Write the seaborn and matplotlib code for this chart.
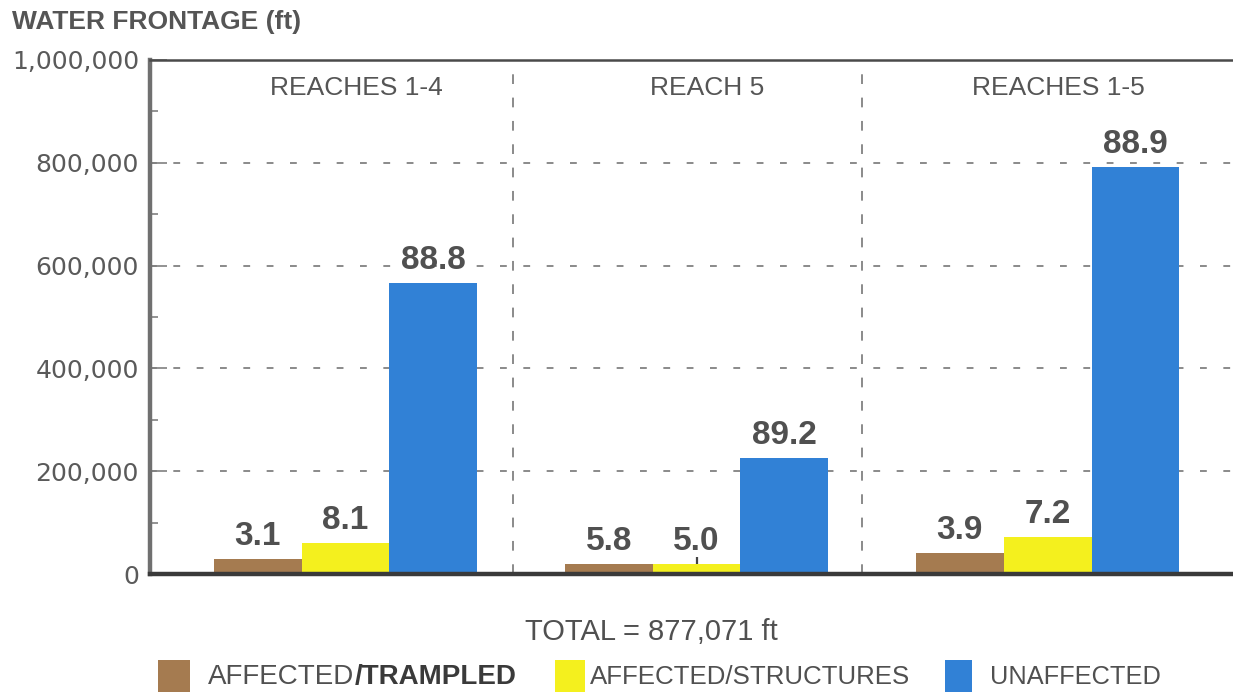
import matplotlib
matplotlib.use("Agg")
import matplotlib.pyplot as plt
from matplotlib.patches import Rectangle
import seaborn as sns
import pandas as pd

# ---- data ----
reaches = ["REACHES 1-4", "REACH 5", "REACHES 1-5"]
categories = ["AFFECTED/TRAMPLED", "AFFECTED/STRUCTURES", "UNAFFECTED"]
trampled = [29000, 19000, 41000]
structures = [60000, 19000, 72000]
unaffected = [566000, 225000, 792000]
pct_trampled = ["3.1", "5.8", "3.9"]
pct_structures = ["8.1", "5.0", "7.2"]
pct_unaffected = ["88.8", "89.2", "88.9"]
yticks = [0, 200000, 400000, 600000, 800000, 1000000]
total_text = "TOTAL = 877,071 ft"
ylabel = "WATER FRONTAGE (ft)"

colors = {"AFFECTED/TRAMPLED": "#A57B50",
          "AFFECTED/STRUCTURES": "#F4F01E",
          "UNAFFECTED": "#3181D6"}

rows = []
for cat, vals in zip(categories, [trampled, structures, unaffected]):
    for r, v in zip(reaches, vals):
        rows.append({"reach": r, "category": cat, "value": v})
df = pd.DataFrame(rows)

sns.set_theme(style="white")
plt.rcParams["font.family"] = ["DejaVu Sans"]
sans = ["Liberation Sans", "DejaVu Sans"]

W, H = 1233, 694
fig = plt.figure(figsize=(W / 100, H / 100), dpi=100)
ax = fig.add_axes([150 / W, 1 - 574 / H, 1083 / W, 514 / H])

sns.barplot(data=df, x="reach", y="value", hue="category", order=reaches,
            hue_order=categories, palette=colors, width=0.75, gap=0,
            saturation=1, legend=False, ax=ax, edgecolor="none", zorder=2)

ax.set_xlim(-0.557, 2.528)
ax.set_ylim(0, 1000000)

# gridlines
for yv in yticks[1:-1]:
    ax.axhline(yv, color="#8a8a8a", lw=1.4, ls=(0, (3.5, 8.5)), zorder=0)
for xv in [0.477, 1.472]:
    ax.axvline(xv, color="#8a8a8a", lw=1.4, ls=(0, (5, 7)), zorder=0)

# spines
ax.spines["right"].set_visible(False)
ax.spines["left"].set_color("#707070")
ax.spines["left"].set_linewidth(3.2)
ax.spines["bottom"].set_color("#3a3a3a")
ax.spines["bottom"].set_linewidth(3.2)
ax.spines["top"].set_color("#4a4a4a")
ax.spines["top"].set_linewidth(1.8)

# ticks
ax.set_yticks(yticks)
ax.set_yticklabels([f"{v:,}" for v in yticks])
ax.set_yticks([100000, 300000, 500000, 700000, 900000], minor=True)
ax.tick_params(axis="y", which="major", direction="in", length=12, width=1.2,
               color="#808080", labelsize=18, labelcolor="#5a5a5a", pad=8,
               left=True)
ax.tick_params(axis="y", which="minor", direction="in", length=6, width=1.2,
               color="#808080", left=True)
ax.tick_params(axis="x", which="major", direction="in", length=12, width=1.6,
               color="#444444", bottom=True, labelbottom=False)
ax.set_xlabel("")
ax.set_ylabel("")

# value labels
for cont, labs in zip(ax.containers, [pct_trampled, pct_structures, pct_unaffected]):
    ax.bar_label(cont, labels=labs, padding=5, fontsize=24, color="#505050",
                 family=sans, fontweight="bold")

# group labels
for i, r in enumerate(reaches):
    ax.text(i + 0.03, 0.945, r, transform=ax.get_xaxis_transform(),
            ha="center", va="center", fontsize=19, color="#555555",
            family=sans)

# title
fig.text(12 / W, 1 - 22 / H, ylabel, ha="left", va="center", fontsize=19,
         fontweight="bold", color="#555555", family=sans)

fig.text(651 / W, 1 - 632 / H, total_text, ha="center", va="center",
         fontsize=21, color="#505050", family=sans)

# legend (manual)
renderer = fig.canvas.get_renderer()
leg_items = [(158, 190, 208, "AFFECTED", "/TRAMPLED", 20),
             (555, 585, 590, "AFFECTED/STRUCTURES", "", 18.6),
             (945, 972, 990, "UNAFFECTED", "", 18.3)]
for (x0, x1, tx, lab, boldpart, fs), cat in zip(leg_items, categories):
    fig.add_artist(Rectangle((x0 / W, 1 - 692 / H), (x1 - x0) / W, 32 / H,
                             transform=fig.transFigure, facecolor=colors[cat],
                             edgecolor="none"))
    t = fig.text(tx / W, 1 - 677 / H, lab, ha="left", va="center", fontsize=fs,
                 color="#505050", family=sans)
    if boldpart:
        bb = t.get_window_extent(renderer=renderer)
        fig.text(bb.x1 / W, 1 - 677 / H, boldpart, ha="left", va="center",
                 fontsize=fs, fontweight="bold", color="#3a3a3a", family=sans)

fig.savefig("out.png", dpi=100)
